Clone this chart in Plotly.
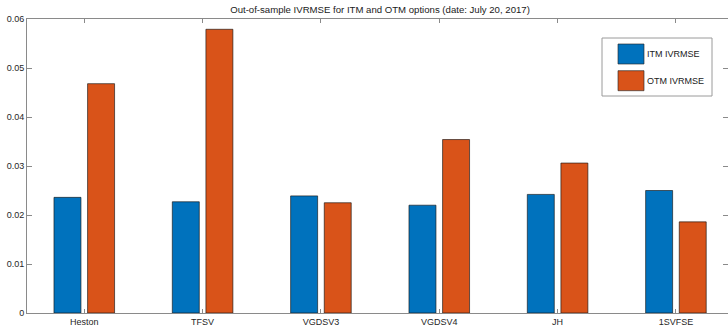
import plotly.graph_objects as go

# Out-of-sample implied-volatility RMSE per model
models = ["Heston", "TFSV", "VGDSV3", "VGDSV4", "JH", "1SVFSE"]
itm_ivrmse = [0.0236, 0.0227, 0.0239, 0.0220, 0.0242, 0.0250]
otm_ivrmse = [0.0468, 0.0579, 0.0225, 0.0354, 0.0306, 0.0186]
series_names = ["ITM IVRMSE", "OTM IVRMSE"]
series_colors = ["#0072BD", "#D95319"]
y_ticks = [0, 0.01, 0.02, 0.03, 0.04, 0.05, 0.06]

W, H = 728, 328
ML, MR, MT, MB = 27, 0, 19, 15
PW, PH = W - ML - MR, H - MT - MB

x_pos = list(range(len(models)))
bar_w = 0.228
half_sep = 0.142

fig = go.Figure()
for vals, name, color, sign in zip([itm_ivrmse, otm_ivrmse], series_names, series_colors, [-1, 1]):
    fig.add_trace(go.Bar(
        x=x_pos, y=vals, name=name,
        width=bar_w, offset=sign * half_sep - bar_w / 2,
        marker=dict(color=color, line=dict(color="rgba(20,20,20,0.8)", width=0.8)),
        showlegend=False,
    ))

axis_color = "#8a8a8a"
fig.update_layout(
    width=W, height=H,
    margin=dict(l=ML, r=MR, t=MT, b=MB, pad=0),
    paper_bgcolor="white", plot_bgcolor="white",
    barmode="overlay",
    font=dict(family="Liberation Sans, Arial, sans-serif", size=9, color="#262626"),
    title=dict(
        text="Out-of-sample IVRMSE for ITM and OTM options (date: July 20, 2017)",
        x=380 / W, xanchor="center", y=1 - 10 / H, yanchor="middle",
        font=dict(size=9.6, color="#1a1a1a"),
    ),
    xaxis=dict(
        range=[-0.484, 5.44], tickmode="array", tickvals=x_pos, ticktext=models,
        showgrid=False, zeroline=False, showline=True, linecolor=axis_color, linewidth=1,
        mirror="ticks", ticks="inside", ticklen=4, tickcolor=axis_color, automargin=False,
    ),
    yaxis=dict(
        range=[0, 0.06], tickmode="array", tickvals=y_ticks,
        ticktext=[("%g" % v) for v in y_ticks],
        showgrid=False, zeroline=False, showline=True, linecolor=axis_color, linewidth=1,
        mirror="ticks", ticks="inside", ticklen=5, tickcolor=axis_color, automargin=False,
    ),
)


# Legend box drawn with shapes in paper coordinates
def px(x):
    return (x - ML) / PW


def py(y):
    return (H - MB - y) / PH


fig.add_shape(type="rect", xref="paper", yref="paper",
              x0=px(602), x1=px(712), y0=py(96), y1=py(38),
              line=dict(color="#9a9a9a", width=1), fillcolor="white", layer="above")
for i, (name, color) in enumerate(zip(series_names, series_colors)):
    top = 44 + i * 26.7
    fig.add_shape(type="rect", xref="paper", yref="paper",
                  x0=px(618), x1=px(644), y0=py(top + 20), y1=py(top),
                  line=dict(color="rgba(40,40,40,0.8)", width=0.8), fillcolor=color, layer="above")
    fig.add_annotation(xref="paper", yref="paper", x=px(645), y=py(top + 10),
                       text=name, showarrow=False, xanchor="left", yanchor="middle",
                       font=dict(family="Liberation Sans Narrow, Arial Narrow, Liberation Sans, sans-serif",
                                 size=9, color="#1a1a1a"))

fig.write_html("out.html")
